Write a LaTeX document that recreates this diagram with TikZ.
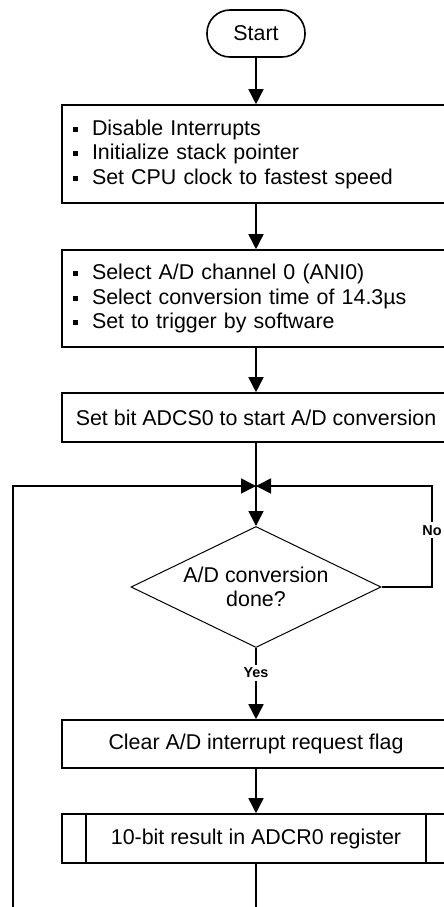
\documentclass[tikz,border=0pt]{standalone}
\usepackage{fontspec}
\setmainfont{Liberation Sans}
\usetikzlibrary{shapes.geometric,arrows.meta}

\newcommand{\sqbul}{\makebox[9.5pt][l]{\rule[1.6pt]{2.5pt}{2.5pt}}}

\begin{document}
\begin{tikzpicture}[x=0.5pt, y=-0.5pt, line width=0.8pt,
    >={Triangle[width=7.5pt,length=7.5pt]},
    every node/.style={font=\fontsize{10.7}{12.25}\selectfont},
    box/.style={draw, rectangle, minimum width=194pt, inner xsep=5.5pt, inner ysep=0pt},
    listbox/.style={box, text width=183pt, align=left},
    term/.style={draw, rectangle, rounded corners=11.5pt, minimum width=49pt, minimum height=23.5pt},
    decision/.style={draw, diamond, line width=0.5pt, aspect=2.07, inner sep=0pt,
      minimum width=125pt, minimum height=60.5pt, align=center},
    lbl/.style={fill=white, inner sep=1.5pt, font=\fontsize{7.2}{8}\selectfont\bfseries}]
    \useasboundingbox (0, 0) rectangle (444, 907);

    \node [term] (start) at (256, 33.5) {Start};
    \node [listbox, minimum height=49pt] (init) at (256, 154)
      {\sqbul Disable Interrupts\\ \sqbul Initialize stack pointer\\ \sqbul Set CPU clock to fastest speed};
    \node [listbox, minimum height=48.5pt] (adsel) at (256, 298.5)
      {\sqbul Select A/D channel 0 (ANI0)\\ \sqbul Select conversion time of 14.3µs\\ \sqbul Set to trigger by software};
    \node [box, minimum height=24.5pt] (setbit) at (256, 417.5) {Set bit ADCS0 to start A/D conversion};
    \node [decision] (done) at (256, 587) {A/D conversion\\done?};
    \node [box, minimum height=24pt] (clear) at (256, 744) {Clear A/D interrupt request flag};
    \node [box, minimum height=24.5pt] (result) at (256, 838.5) {10-bit result in ADCR0 register};
    \draw ([xshift=12.5pt]result.north west) -- ([xshift=12.5pt]result.south west);
    \draw ([xshift=-12.5pt]result.north east) -- ([xshift=-12.5pt]result.south east);

    \coordinate (join) at (256, 486);
    \coordinate (loopl) at (13, 486);
    \coordinate (loopr) at (432, 486);

    \draw [->] (start) -- (init);
    \draw [->] (init) -- (adsel);
    \draw [->] (adsel) -- (setbit);
    \draw (setbit) -- (join);
    \draw [->] (join) -- (done.north);
    \draw [->] (done.east) -| node [pos=0.78, lbl] {No} (loopr) -- (join);
    \draw [->] (done.south) -- node [pos=0.35, lbl] {Yes} (clear.north);
    \draw [->] (clear) -- (result);
    \draw [->] (result.south) -- ++(0, 60) -| (loopl) -- (join);
  \end{tikzpicture}
\end{document}
